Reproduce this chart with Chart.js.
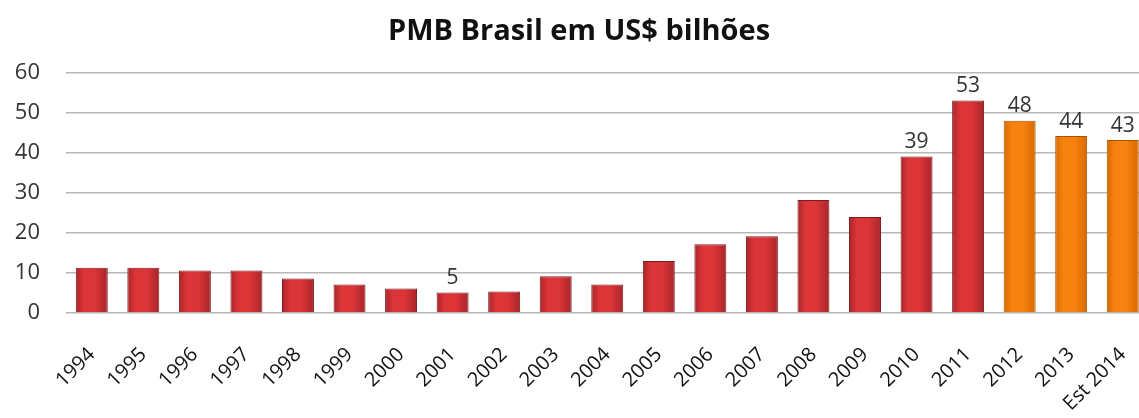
<!DOCTYPE html>
<html>
<head>
<meta charset="utf-8">
<script src="https://cdn.jsdelivr.net/npm/chart.js@4"></script>
<style>
html,body{margin:0;padding:0;background:#fff;overflow:hidden;}
#wrap{width:1162px;height:418px;position:relative;}
</style>
</head>
<body>
<div id="wrap"><canvas id="c"></canvas></div>
<script>
const categories = ["1994","1995","1996","1997","1998","1999","2000","2001","2002","2003","2004","2005","2006","2007","2008","2009","2010","2011","2012","2013","Est 2014"];
const values = [11.3,11.3,10.6,10.6,8.6,7.1,6.1,5.1,5.4,9.2,7.1,13.0,17.2,19.2,28.2,24.0,39.1,53.1,48.0,44.2,43.2];
const valueLabels = ["","","","","","","","5","","","","","","","","","39","53","48","44","43"];
const yTicks = [0,10,20,30,40,50,60];
const isEstimate = [false,false,false,false,false,false,false,false,false,false,false,false,false,false,false,false,false,false,true,true,true];

const FONT = "'Open Sans', 'Noto Sans', sans-serif";

function barGradient(ctx, el, base, dark) {
  const g = ctx.createLinearGradient(el.x - el.width/2, 0, el.x + el.width/2, 0);
  g.addColorStop(0, dark);
  g.addColorStop(0.25, base);
  g.addColorStop(0.6, base);
  g.addColorStop(1, dark);
  return g;
}

const labelPlugin = {
  id: 'valueLabels',
  afterDatasetsDraw(chart) {
    const ctx = chart.ctx;
    const meta = chart.getDatasetMeta(0);
    ctx.save();
    ctx.font = "21px " + FONT;
    ctx.fillStyle = "#333";
    ctx.textAlign = "center";
    ctx.textBaseline = "bottom";
    meta.data.forEach((bar, i) => {
      const t = valueLabels[i];
      if (t) ctx.fillText(t, bar.x, bar.y - 4);
    });
    ctx.restore();
  }
};

const shadePlugin = {
  id: 'shade',
  beforeDatasetsDraw(chart) {
    const meta = chart.getDatasetMeta(0);
    const ctx = chart.ctx;
    meta.data.forEach((bar, i) => {
      const est = isEstimate[i];
      bar.options.backgroundColor = est
        ? barGradient(ctx, bar, '#f7820f', '#d86a00')
        : barGradient(ctx, bar, '#dc3538', '#a8262a');
    });
  }
};

new Chart(document.getElementById('c'), {
  type: 'bar',
  data: {
    labels: categories,
    datasets: [{
      data: values,
      backgroundColor: isEstimate.map(e => e ? '#f27d0c' : '#d5312f'),
      borderColor: isEstimate.map(e => e ? '#a85200' : '#7e1a1a'),
      borderWidth: 1,
      barPercentage: 0.62,
      categoryPercentage: 1.0
    }]
  },
  options: {
    responsive: true,
    maintainAspectRatio: false,
    animation: false,
    layout: { padding: { left: 8, right: 12, top: 4, bottom: 0 } },
    plugins: {
      legend: { display: false },
      tooltip: { enabled: false },
      title: {
        display: true,
        text: 'PMB Brasil em US$ bilhões',
        color: '#111',
        font: { family: FONT, size: 29, weight: 'bold' },
        padding: { top: 10, bottom: 24 }
      }
    },
    scales: {
      x: {
        grid: { display: false },
        border: { display: false },
        afterFit(axis) { axis.height = 105; },
        ticks: {
          color: '#111',
          font: { family: FONT, size: 20 },
          maxRotation: 45,
          minRotation: 45,
          autoSkip: false,
          padding: 22
        }
      },
      y: {
        min: 0,
        max: 60,
        afterBuildTicks(axis) { axis.ticks = yTicks.map(v => ({ value: v })); },
        afterFit(axis) { axis.width = 58; },
        grid: { color: '#b8b8b8', lineWidth: 1.5, drawTicks: false },
        border: { display: false },
        ticks: {
          color: '#333',
          font: { family: FONT, size: 22 },
          padding: 26
        }
      }
    }
  },
  plugins: [shadePlugin, labelPlugin]
});
</script>
</body>
</html>
